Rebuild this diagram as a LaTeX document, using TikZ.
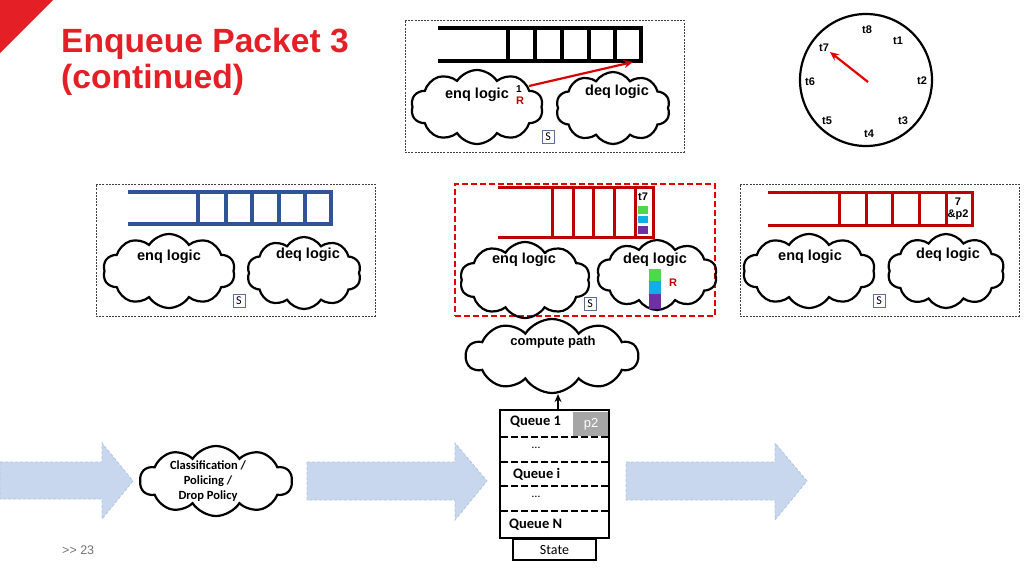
\documentclass[tikz,border=0pt]{standalone}
\usepackage{fontspec}
\setmainfont{Liberation Sans}
\newfontfamily\calib{Carlito}
\usetikzlibrary{shapes.symbols,arrows.meta}
\definecolor{tred}{HTML}{E41F26}
\definecolor{qblue}{HTML}{2F5597}
\definecolor{qred}{HTML}{C00000}
\definecolor{abfill}{HTML}{C9D7EE}
\definecolor{abline}{HTML}{B0C4E4}
\definecolor{sbox}{HTML}{5B7090}
\definecolor{cg}{HTML}{4CD94C}
\definecolor{cb}{HTML}{12AEE8}
\definecolor{cp}{HTML}{7030A0}
\begin{document}
\begin{tikzpicture}[x=1pt,y=-1pt,
  frame/.style={draw=black!75, line width=0.8pt, dash pattern=on 2pt off 1.2pt},
  qline/.style={line width=3.3pt},
  mycloud/.style={cloud, cloud puffs=10, cloud puff arc=115, cloud ignores aspect, draw, line width=2.2pt, inner sep=0pt},
  lbl/.style={font=\bfseries\fontsize{14.5}{16}\selectfont, inner sep=0pt},
  sboxst/.style={draw=sbox, line width=0.9pt, inner sep=1pt, minimum width=12pt, minimum height=13pt, font=\calib\fontsize{12}{12}\selectfont},
  tl/.style={font=\bfseries\fontsize{11}{12}\selectfont, inner sep=0pt},
  bigarrow/.style={fill=abfill, draw=abline, line width=0.8pt, dash pattern=on 3pt off 2pt},
  qlab/.style={font=\calib\bfseries\fontsize{14.5}{15}\selectfont, inner sep=0pt, anchor=west}
]
\useasboundingbox (0,0) rectangle (1024,576);
% corner triangle and title
\fill[tred] (0,0) -- (53,0) -- (0,53) -- cycle;
\node[anchor=base west, inner sep=0pt, text=tred, font=\bfseries\fontsize{33.6}{36}\selectfont] (title1) at (61,52) {Enqueue Packet 3};
\node[anchor=base west, inner sep=0pt, text=tred, font=\bfseries\fontsize{33.6}{36}\selectfont] (title2) at (61,88) {(continued)};
\node[anchor=base west, inner sep=0pt, text=black!55, font=\fontsize{12.5}{13}\selectfont] (pg) at (62,554) {{>}{>} 23};

% ---------- top box ----------
\node[frame, minimum width=279pt, minimum height=132pt, inner sep=0pt] (topbox) at (544.5,86) {};
\draw[qline] (438,28) -- (641,28) -- (641,61) -- (438,61);
\foreach \x in {508,535,562,589,615} \draw[qline] (\x,28) -- (\x,61);
\node[mycloud, minimum width=132pt, minimum height=74pt] (tenq) at (477,107) {};
\node[mycloud, minimum width=114pt, minimum height=72pt] (tdeq) at (613,108) {};
\node[lbl] (tenqt) at (477,95) {enq logic};
\node[lbl] (tdeqt) at (617,92) {deq logic};
\node[tl, font=\bfseries\fontsize{10}{11}\selectfont] (tone) at (519,89) {1};
\node[tl, text=qred] (tR) at (520,101) {R};
\coordinate (tarrs) at (529,86);
\coordinate (tarre) at (633,62);
\draw[red!85!black, line width=2.2pt, -{Stealth[length=9pt,width=8pt]}] (tarrs) -- (tarre);
\node[sboxst] (tS) at (548,137) {S};

% ---------- clock ----------
\node[draw, circle, line width=2.2pt, minimum size=132pt, inner sep=0pt] (clock) at (866,80) {};
\node[tl] (t8) at (867,30) {t8};
\node[tl] (t1) at (898,41) {t1};
\node[tl] (t2) at (922,81) {t2};
\node[tl] (t3) at (903,121) {t3};
\node[tl] (t4) at (869,134) {t4};
\node[tl] (t5) at (827,121) {t5};
\node[tl] (t6) at (810,82) {t6};
\node[tl] (t7) at (824,48) {t7};
\coordinate (hand0) at (868,82);
\coordinate (hand1) at (830,52);
\draw[red!90!black, line width=2.2pt, -{Stealth[length=9pt,width=8pt]}] (hand0) -- (hand1);

% ---------- left box ----------
\node[frame, minimum width=279pt, minimum height=132pt, inner sep=0pt] (lbox) at (235.5,250) {};
\draw[qline, qblue] (128,192) -- (331,192) -- (331,224) -- (128,224);
\foreach \x in {198,226,252,279,305} \draw[qline, qblue] (\x,192) -- (\x,224);
\node[mycloud, minimum width=132pt, minimum height=74pt] (lenq) at (169,271) {};
\node[mycloud, minimum width=114pt, minimum height=72pt] (ldeq) at (304,273) {};
\node[lbl] (lenqt) at (169,257) {enq logic};
\node[lbl] (ldeqt) at (308,255) {deq logic};
\node[sboxst] (lS) at (239,301) {S};

% ---------- middle box ----------
\node[draw=red!90!black, line width=2pt, dash pattern=on 6pt off 3pt, minimum width=260pt, minimum height=132pt, inner sep=0pt] (mbox) at (585,250) {};
\draw[qline, qred, line width=3pt] (498,187) -- (653,187) -- (653,237) -- (498,237);
\foreach \x in {552,573,593,614,635} \draw[qline, qred, line width=3pt] (\x,187) -- (\x,237);
\node[tl, font=\bfseries\fontsize{11}{12}\selectfont] (mt7) at (643,197) {t7};
\fill[cg] (638,206) rectangle (648,214);
\fill[cb] (638,216) rectangle (648,223);
\fill[cp] (638,226) rectangle (648,234);
\node[mycloud, minimum width=130pt, minimum height=76pt] (menq) at (525,280) {};
\node[mycloud, minimum width=120pt, minimum height=70pt] (mdeq) at (657,275) {};
\node[lbl] (menqt) at (524,260) {enq logic};
\node[lbl] (mdeqt) at (655,260) {deq logic};
\fill[cg] (649,269) rectangle (661,281);
\fill[cb] (649,281) rectangle (661,294);
\fill[cp] (649,294) rectangle (661,309);
\node[tl, text=qred] (mR) at (673,283) {R};
\node[sboxst] (mS) at (590,304) {S};

% ---------- right box ----------
\node[frame, minimum width=279pt, minimum height=132pt, inner sep=0pt] (rbox) at (879.5,250) {};
\draw[qline, qred, line width=3pt] (768,192) -- (972,192) -- (972,225) -- (768,225);
\foreach \x in {839,866,892,919,946} \draw[qline, qred, line width=3pt] (\x,192) -- (\x,225);
\node[tl, align=center, font=\bfseries\fontsize{11}{12}\selectfont] (r7) at (958,209) {7\\\&p2};
\node[mycloud, minimum width=132pt, minimum height=74pt] (renq) at (809,271) {};
\node[mycloud, minimum width=117pt, minimum height=74pt] (rdeq) at (946,271) {};
\node[lbl] (renqt) at (810,257) {enq logic};
\node[lbl] (rdeqt) at (948,255) {deq logic};
\node[sboxst] (rS) at (879,301) {S};

% ---------- compute path ----------
\node[mycloud, minimum width=172pt, minimum height=74pt] (cpath) at (552,356) {};
\node[lbl, font=\bfseries\fontsize{13}{14}\selectfont] (cpatht) at (553,342) {compute path};

% ---------- queue stack ----------
\node[draw, line width=2.8pt, minimum width=109pt, minimum height=128pt, inner sep=0pt] (qstack) at (554.5,474) {};
\fill[black!35] (573,411.5) rectangle (608,436);
\node[inner sep=0pt, text=white, font=\fontsize{13}{14}\selectfont] (p2) at (591,424) {p2};
\foreach \y in {437,462,486,511} \draw[line width=2.8pt, dash pattern=on 7pt off 3pt] (501,\y) -- (608,\y);
\node[qlab] (q1) at (510,422) {Queue 1};
\node[inner sep=0pt, font=\calib\fontsize{12}{12}\selectfont] (d1) at (536,448) {\dots};
\node[qlab] (qi) at (513,474) {Queue i};
\node[inner sep=0pt, font=\calib\fontsize{12}{12}\selectfont] (d2) at (536,497) {\dots};
\node[qlab] (qn) at (509,525) {Queue N};
\node[draw, line width=2pt, minimum width=83pt, minimum height=21pt, inner sep=0pt, font=\calib\fontsize{14}{14}\selectfont, anchor=north] (state) at (554.5,538) {State};
\draw[line width=2.5pt, -{Stealth[length=8pt,width=7pt]}] (qstack.north -| 558,0) -- (cpath.south -| 558,0);

% ---------- classification ----------
\node[mycloud, minimum width=152pt, minimum height=70pt] (cls) at (216,481) {};
\node[inner sep=0pt, align=center, font=\calib\bfseries\fontsize{12.5}{15}\selectfont] (clst) at (208,481) {Classification /\\Policing /\\Drop Policy};

% ---------- big arrows ----------
\draw[bigarrow] (0,462) -- (102,462) -- (102,443) -- (133,481) -- (102,519) -- (102,499) -- (0,499) -- cycle;
\draw[bigarrow] (307,462) -- (455,462) -- (455,443) -- (487,481) -- (455,520) -- (455,500) -- (307,500) -- cycle;
\draw[bigarrow] (626,462) -- (775,462) -- (775,443) -- (807,481) -- (775,520) -- (775,500) -- (626,500) -- cycle;
\end{tikzpicture}
\end{document}
